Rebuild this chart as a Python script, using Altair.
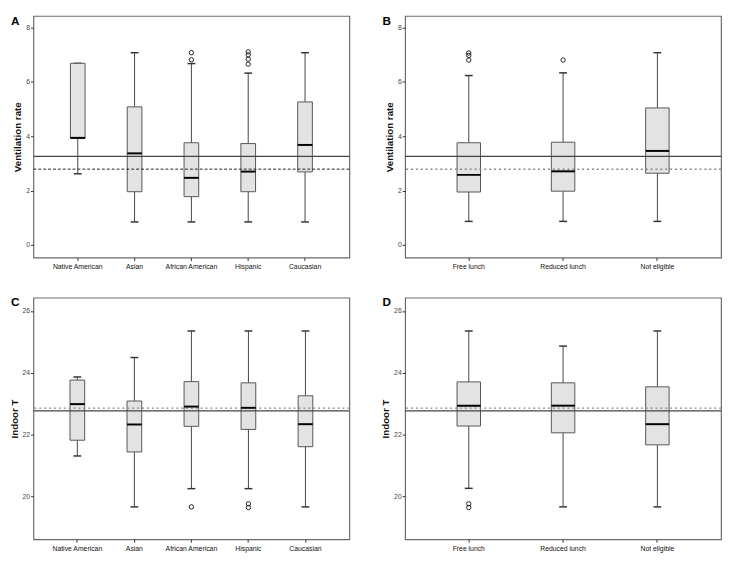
import altair as alt
import pandas as pd

# ---------------- data ----------------
cats_eth = ["Native American", "Asian", "African American", "Hispanic", "Caucasian"]
cats_lunch = ["Free lunch", "Reduced lunch", "Not eligible"]

# Panel A: ventilation rate by ethnicity
vent_eth_low = [2.62, 0.85, 0.85, 0.85, 0.85]
vent_eth_q1 = [3.92, 1.96, 1.78, 1.96, 2.69]
vent_eth_med = [3.94, 3.37, 2.47, 2.70, 3.68]
vent_eth_q3 = [6.68, 5.08, 3.76, 3.73, 5.26]
vent_eth_high = [6.68, 7.07, 6.67, 6.32, 7.07]
vent_eth_out_cat = ["African American", "African American", "Hispanic", "Hispanic", "Hispanic", "Hispanic"]
vent_eth_out_val = [6.81, 7.07, 6.65, 6.83, 6.99, 7.10]

# Panel B: ventilation rate by lunch status
vent_lunch_low = [0.87, 0.87, 0.87]
vent_lunch_q1 = [1.95, 1.98, 2.64]
vent_lunch_med = [2.58, 2.71, 3.46]
vent_lunch_q3 = [3.76, 3.78, 5.04]
vent_lunch_high = [6.23, 6.33, 7.07]
vent_lunch_out_cat = ["Free lunch", "Free lunch", "Free lunch", "Reduced lunch"]
vent_lunch_out_val = [6.80, 6.97, 7.06, 6.80]

# Panel C: indoor temperature by ethnicity
temp_eth_low = [21.30, 19.65, 20.24, 20.24, 19.65]
temp_eth_q1 = [21.81, 21.43, 22.26, 22.16, 21.60]
temp_eth_med = [22.98, 22.32, 22.90, 22.86, 22.33]
temp_eth_q3 = [23.76, 23.08, 23.71, 23.67, 23.25]
temp_eth_high = [23.86, 24.49, 25.35, 25.35, 25.35]
temp_eth_out_cat = ["African American", "Hispanic", "Hispanic"]
temp_eth_out_val = [19.65, 19.63, 19.75]

# Panel D: indoor temperature by lunch status
temp_lunch_low = [20.25, 19.65, 19.65]
temp_lunch_q1 = [22.27, 22.05, 21.66]
temp_lunch_med = [22.93, 22.93, 22.33]
temp_lunch_q3 = [23.70, 23.67, 23.54]
temp_lunch_high = [25.35, 24.86, 25.35]
temp_lunch_out_cat = ["Free lunch", "Free lunch"]
temp_lunch_out_val = [19.63, 19.75]

# reference lines
vent_solid, vent_dash = 3.26, 2.79
temp_solid, temp_dash = 22.76, 22.85

vent_ticks = [0, 2, 4, 6, 8]
temp_ticks = [20, 22, 24, 26]

FONT = "Liberation Sans"
W, H = 323, 247


def panel(letter, cats, low, q1, med, q3, high, out_cat, out_val, solid, dashed,
          dash_style, ytitle, ydomain, yticks, box_w, pad_outer):
    df = pd.DataFrame({"cat": cats, "low": low, "q1": q1, "med": med, "q3": q3, "high": high})
    dfo = pd.DataFrame({"cat": out_cat, "val": out_val})
    dfl = pd.DataFrame({"solid": [solid], "dashed": [dashed]})
    dft = pd.DataFrame({"label": [letter]})

    xs = alt.Scale(paddingInner=0, paddingOuter=pad_outer)
    xaxis = alt.Axis(title=None, labelAngle=0, tickSize=3, labelFontSize=7, labelColor="#111",
                     tickColor="#333", domain=False, labelPadding=2, labelFont=FONT)
    ys = alt.Scale(domain=ydomain, nice=False, zero=False)
    yaxis = alt.Axis(values=yticks, title=ytitle, titleFontSize=10, titleFontWeight="bold",
                     titleFont=FONT, labelFont=FONT, labelFontSize=7, labelColor="#444",
                     tickSize=3, tickColor="#333", labelPadding=1, titlePadding=3,
                     grid=False, domain=False, format="d", titleColor="#111")

    def X():
        return alt.X("cat:N", sort=cats, scale=xs, axis=xaxis)

    def Y(f):
        return alt.Y(f, type="quantitative", scale=ys, axis=yaxis, title=ytitle)

    base = alt.Chart(df)
    whisk_up = base.mark_rule(color="#444", strokeWidth=1).encode(x=X(), y=Y("q3"), y2="high")
    whisk_dn = base.mark_rule(color="#444", strokeWidth=1).encode(x=X(), y=Y("low"), y2="q1")
    cap_up = base.mark_tick(color="#333", size=8, thickness=1.5, opacity=1).encode(x=X(), y=Y("high"))
    cap_dn = base.mark_tick(color="#333", size=8, thickness=1.5, opacity=1).encode(x=X(), y=Y("low"))
    box = base.mark_bar(size=box_w, fill="#e3e3e3", stroke="#555", strokeWidth=1).encode(
        x=X(), y=Y("q1"), y2="q3")
    median = base.mark_tick(color="#000", size=box_w, thickness=2, opacity=1).encode(x=X(), y=Y("med"))
    outl = alt.Chart(dfo).mark_point(shape="circle", filled=False, size=20, color="#222",
                                     strokeWidth=1, opacity=1).encode(x=X(), y=Y("val"))
    line_solid = alt.Chart(dfl).mark_rule(color="#444", strokeWidth=1.2).encode(y=Y("solid"))
    line_dash = alt.Chart(dfl).mark_rule(color=dash_style[0], strokeWidth=dash_style[1],
                                         strokeDash=dash_style[2]).encode(y=Y("dashed"))
    txt = alt.Chart(dft).mark_text(align="left", baseline="top", fontSize=12, fontWeight="bold",
                                   font=FONT, color="#000").encode(
        text="label:N", x=alt.value(-23), y=alt.value(0))

    return alt.layer(whisk_up, whisk_dn, cap_up, cap_dn, box, line_dash, line_solid,
                     median, outl, txt).properties(width=W, height=H)


vent_dom = [-0.46, 8.42]
temp_dom = [18.6, 26.43]

a = panel("A", cats_eth, vent_eth_low, vent_eth_q1, vent_eth_med, vent_eth_q3, vent_eth_high,
          vent_eth_out_cat, vent_eth_out_val, vent_solid, vent_dash, ("#222", 1, [3, 2]),
          "Ventilation rate", vent_dom, vent_ticks, 15, 0.28)
b = panel("B", cats_lunch, vent_lunch_low, vent_lunch_q1, vent_lunch_med, vent_lunch_q3,
          vent_lunch_high, vent_lunch_out_cat, vent_lunch_out_val, vent_solid, vent_dash,
          ("#888", 1.5, [2, 3]), "Ventilation rate", vent_dom, vent_ticks, 24, 0.175)
c = panel("C", cats_eth, temp_eth_low, temp_eth_q1, temp_eth_med, temp_eth_q3, temp_eth_high,
          temp_eth_out_cat, temp_eth_out_val, temp_solid, temp_dash, ("#888", 1.5, [2, 3]),
          "Indoor T", temp_dom, temp_ticks, 15, 0.27)
d = panel("D", cats_lunch, temp_lunch_low, temp_lunch_q1, temp_lunch_med, temp_lunch_q3,
          temp_lunch_high, temp_lunch_out_cat, temp_lunch_out_val, temp_solid, temp_dash,
          ("#888", 1.5, [2, 3]), "Indoor T", temp_dom, temp_ticks, 24, 0.175)

chart = alt.concat(a, b, c, d, columns=2, spacing={"row": 26, "column": 29}).properties(
    padding=0, background="white"
).configure_view(stroke="#6a6a6a", strokeWidth=1.2)

chart.save("out.html", embed_options={"renderer": "svg", "actions": False})
